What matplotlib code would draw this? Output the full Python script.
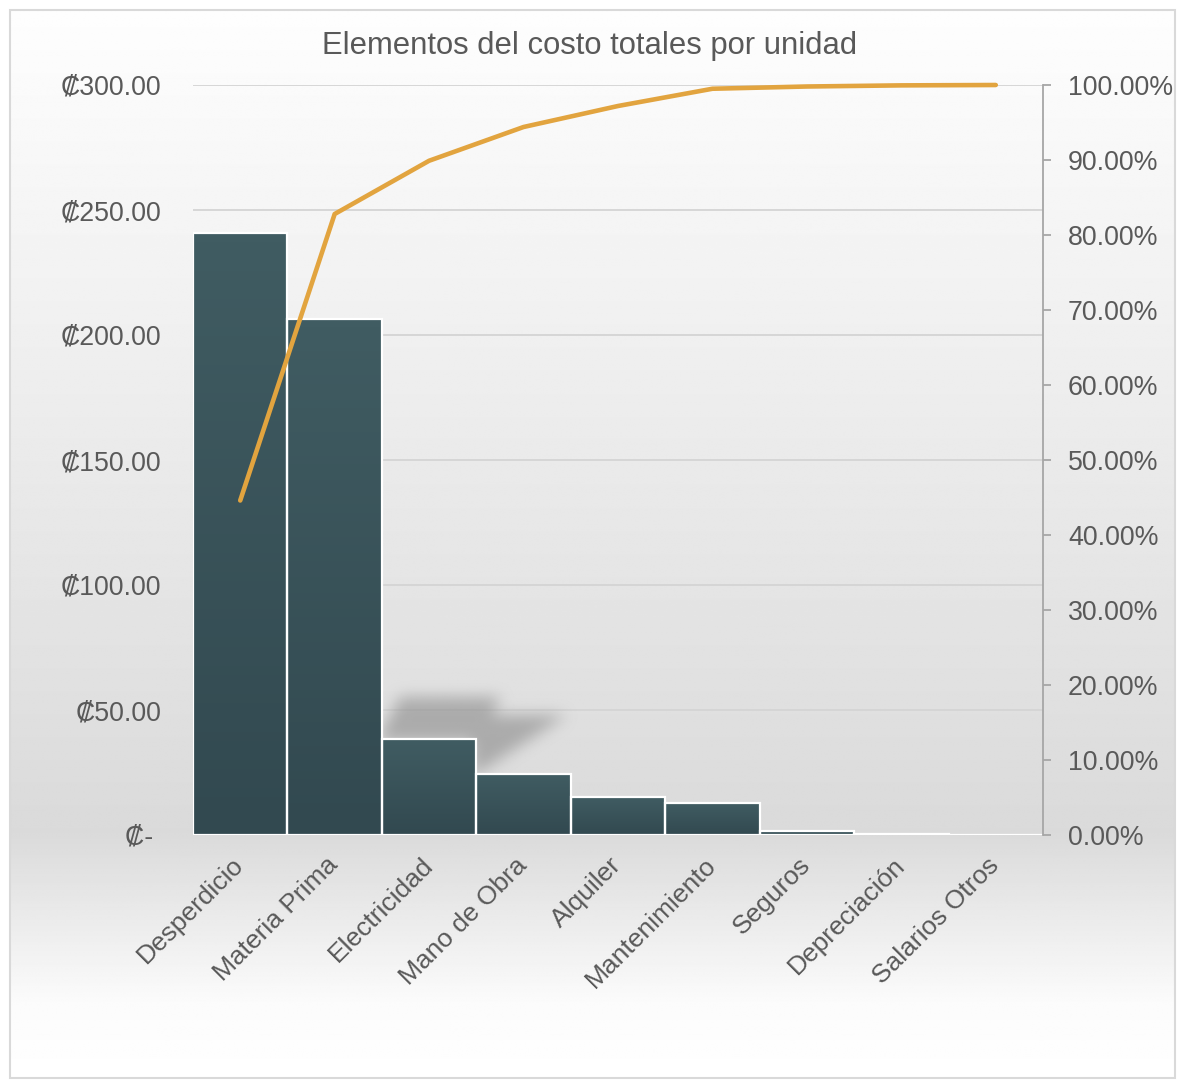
import numpy as np
import matplotlib
matplotlib.use("Agg")
import matplotlib.pyplot as plt
from matplotlib.patches import Rectangle
from matplotlib.path import Path
from matplotlib.colors import LinearSegmentedColormap
from matplotlib.ticker import FixedLocator, FixedFormatter

# ---- data ----
categories = ["Desperdicio", "Materia Prima", "Electricidad", "Mano de Obra", "Alquiler",
              "Mantenimiento", "Seguros", "Depreciación", "Salarios Otros"]
costs = [240.8, 206.4, 38.4, 24.4, 15.2, 12.8, 1.5, 0.3, 0.1]
cumulative_pct = [44.6, 82.8, 89.9, 94.4, 97.2, 99.5, 99.8, 99.95, 100.0]
cost_ticks = [0, 50, 100, 150, 200, 250, 300]
cost_tick_labels = ["₡- ", "₡50.00", "₡100.00", "₡150.00", "₡200.00", "₡250.00", "₡300.00"]
pct_ticks = [0, 10, 20, 30, 40, 50, 60, 70, 80, 90, 100]
pct_tick_labels = ["0.00%", "10.00%", "20.00%", "30.00%", "40.00%", "50.00%",
                   "60.00%", "70.00%", "80.00%", "90.00%", "100.00%"]
title = "Elementos del costo totales por unidad"

plt.rcParams['font.family'] = ['Liberation Sans', 'DejaVu Sans']
TEXT = '#595959'
W, H = 1177, 1080
fig = plt.figure(figsize=(W / 100, H / 100), dpi=100)
fig.patch.set_facecolor('white')

# chart-area background: white -> light gray -> white vertical gradient
bg = fig.add_axes([10 / W, 2 / H, 1165 / W, 1068 / H], zorder=-10)
t = np.linspace(0, 1, 600)
shade = np.interp(t, [0.0, 0.77, 0.93, 1.0], [0.995, 0.855, 0.985, 1.0])
bg.imshow(shade[:, None] * np.ones((1, 4)), cmap='gray', vmin=0, vmax=1,
          aspect='auto', extent=[0, 1, 0, 1], interpolation='bilinear')
bg.set_axis_off()

ax = fig.add_axes([193 / W, 1 - 835 / H, 850 / W, 750 / H])
ax.patch.set_visible(False)
n = len(categories)
xlim = (-0.5, n - 0.5)
ylim = (0, 300)
x = np.arange(n)

# soft drop shadow behind the Electricidad / Mano de Obra bars
e_top, m_top = costs[2], costs[3]
shadows = [
    [(1.45, e_top - 1), (1.69, e_top + 16.8), (2.76, e_top + 16.8), (2.51, e_top - 1)],
    [(2.45, e_top), (2.57, e_top + 9.5), (3.46, e_top + 9.5), (2.57, m_top + 1.6), (2.45, m_top - 1)],
]
nx, ny = 850, 750
gx = np.linspace(xlim[0], xlim[1], nx)
gy = np.linspace(ylim[0], ylim[1], ny)
XX, YY = np.meshgrid(gx, gy)
pts = np.column_stack([XX.ravel(), YY.ravel()])
mask = np.zeros(nx * ny)
for verts in shadows:
    mask = np.maximum(mask, Path(verts).contains_points(pts).astype(float))
mask = mask.reshape(ny, nx)


def box_blur(a, r):
    k = np.ones(2 * r + 1) / (2 * r + 1)
    a = np.apply_along_axis(lambda m: np.convolve(m, k, mode='same'), 0, a)
    a = np.apply_along_axis(lambda m: np.convolve(m, k, mode='same'), 1, a)
    return a


mask = box_blur(box_blur(box_blur(mask, 7), 7), 6)
rgba = np.zeros((ny, nx, 4))
rgba[..., :3] = 0.55
rgba[..., 3] = np.clip(mask * 0.62, 0, 1)
ax.imshow(rgba, origin='lower', extent=[*xlim, *ylim], aspect='auto',
          interpolation='bilinear', zorder=1)

# bars with a subtle vertical gradient
bar_cmap = LinearSegmentedColormap.from_list('bar', ['#324950', '#405c62'])
bars = ax.bar(x, costs, width=1.0, facecolor='none', edgecolor='white',
              linewidth=1.6, zorder=3)
for xi, h, patch in zip(x, costs, bars):
    im = ax.imshow(np.linspace(0, 1, 64)[:, None], cmap=bar_cmap, origin='lower',
                   extent=[xi - 0.5, xi + 0.5, 0, h], aspect='auto', zorder=2)
    im.set_clip_path(patch)

ax.set_xlim(*xlim)
ax.set_ylim(*ylim)
ax.yaxis.set_major_locator(FixedLocator(cost_ticks))
ax.yaxis.set_major_formatter(FixedFormatter(cost_tick_labels))
ax.tick_params(axis='y', length=0, pad=23, labelsize=19.3, labelcolor=TEXT)
ax.grid(axis='y', color='#d4d4d4', lw=1.3)
ax.set_axisbelow(True)
ax.set_xticks(x)
ax.set_xticklabels(categories, rotation=45, ha='right', va='center',
                   rotation_mode='anchor')
ax.tick_params(axis='x', length=0, pad=19, labelsize=19, labelcolor=TEXT)
for s in ax.spines.values():
    s.set_visible(False)

# cumulative percentage line on the secondary axis
ax2 = ax.twinx()
ax2.plot(x, cumulative_pct, color='#e2a43f', lw=3.3, solid_joinstyle='round',
         solid_capstyle='round', zorder=5, clip_on=False)
ax2.set_ylim(0, 100)
ax2.yaxis.set_major_locator(FixedLocator(pct_ticks))
ax2.yaxis.set_major_formatter(FixedFormatter(pct_tick_labels))
ax2.tick_params(axis='y', length=6, width=1.3, color='#a6a6a6', direction='out',
                pad=12, labelsize=19.3, labelcolor=TEXT)
for name, s in ax2.spines.items():
    s.set_visible(name == 'right')
ax2.spines['right'].set_color('#a6a6a6')
ax2.spines['right'].set_linewidth(1.3)

fig.text(590 / W, 1 - 46 / H, title, ha='center', va='center', fontsize=22.3, color=TEXT)
fig.add_artist(Rectangle((10 / W, 2 / H), 1165 / W, 1068 / H, transform=fig.transFigure,
                         fill=False, edgecolor='#d9d9d9', lw=1.5))

fig.savefig('out.png', dpi=100)
